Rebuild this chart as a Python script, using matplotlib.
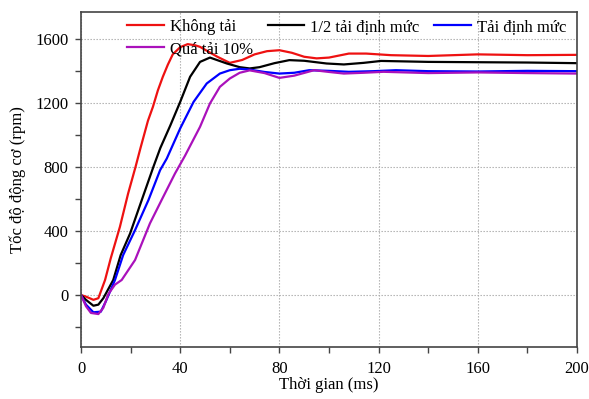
import matplotlib
matplotlib.use('Agg')
import matplotlib.pyplot as plt

plt.rcParams['font.family'] = ['Liberation Serif', 'DejaVu Serif']

# speed responses (time in ms, speed in rpm)
t_none = [0, 2, 5, 7, 9.7, 12, 15.7, 19, 22, 24, 27, 29, 31, 33, 35, 37, 40, 43, 46, 48, 51, 55,
          60, 65, 70, 75, 80, 85, 90, 95, 100, 108, 115, 125, 140, 160, 180, 200]
v_none = [0, -10, -30, -20, 94, 230, 427, 635, 802, 920, 1090, 1177, 1280, 1365, 1440, 1505, 1550, 1569, 1562, 1552, 1525, 1490,
          1452, 1470, 1505, 1525, 1531, 1515, 1490, 1480, 1485, 1510, 1510, 1500, 1495, 1505, 1500, 1502]

t_half = [0, 2, 5, 7, 9, 13, 16, 19.8, 24.5, 29.2, 32, 36, 40, 44, 48, 52, 58.8, 64, 68, 72,
          78, 84, 90, 99, 106, 114, 121, 140, 160, 180, 200]
v_half = [0, -30, -67, -60, -20, 94, 250, 385, 594, 802, 920, 1060, 1208, 1365, 1458, 1485, 1448, 1425, 1417, 1425,
          1450, 1469, 1465, 1448, 1442, 1452, 1464, 1458, 1456, 1454, 1450]

t_rated = [0, 2, 5, 8, 10, 13.7, 17, 21.8, 27.2, 31.9, 34.6, 40, 45.4, 50.7, 56, 60, 64, 68, 74, 80,
           86, 92, 100, 108, 118, 127, 140, 160, 180, 200]
v_rated = [0, -60, -108, -104, -40, 94, 250, 406, 594, 781, 854, 1042, 1208, 1323, 1385, 1406, 1415, 1410, 1395, 1385,
           1390, 1406, 1402, 1396, 1400, 1406, 1400, 1398, 1402, 1400]

t_over = [0, 2, 4, 7, 9, 11, 13.7, 16.4, 21.8, 27.8, 32.5, 37.9, 41.9, 48, 52, 56, 60, 64, 68, 74, 80,
          86, 94, 100, 106, 114, 122, 140, 160, 180, 200]
v_over = [0, -70, -112, -119, -80, 5, 65, 94, 219, 448, 594, 760, 870, 1052, 1198, 1302, 1354, 1390, 1405, 1388, 1358,
          1372, 1406, 1395, 1385, 1390, 1396, 1388, 1392, 1388, 1385]

labels = ['Không tải', '1/2 tải định mức', 'Tải định mức', 'Quá tải 10%']

fig = plt.figure(figsize=(5.89, 3.99), dpi=100)
ax = fig.add_axes([81 / 589, 1 - 347 / 399, 496 / 589, 335 / 399])

ln1, = ax.plot(t_none, v_none, color='#ee1111', lw=1.6)
ln2, = ax.plot(t_half, v_half, color='black', lw=1.6)
ln3, = ax.plot(t_rated, v_rated, color='#0000ff', lw=1.6)
ln4, = ax.plot(t_over, v_over, color='#aa11bb', lw=1.6)

ax.set_xlim(0, 200)
ax.set_ylim(-325, 1770)
ax.set_xticks([0, 40, 80, 120, 160, 200])
ax.set_xticks([20, 60, 100, 140, 180], minor=True)
ax.set_yticks([0, 400, 800, 1200, 1600])
ax.set_yticks([-200, 200, 600, 1000, 1400], minor=True)
ax.tick_params(which='major', direction='out', length=4, width=1, labelsize=12, color='#444444')
ax.tick_params(which='minor', direction='out', length=4, width=1, color='#444444')
ax.tick_params(axis='x', which='major', pad=6)
ax.tick_params(axis='y', which='major', pad=5)
ax.grid(True, which='major', ls=(0, (1.2, 1.5)), color='#aaaaaa', lw=0.8)
for s in ax.spines.values():
    s.set_color('#444444')
    s.set_linewidth(1.2)

ax.set_xlabel('Thời gian (ms)', fontsize=12, labelpad=0)
ax.set_ylabel('Tốc độ động cơ (rpm)', fontsize=12, labelpad=7)

ax.legend([ln1, ln4, ln2, ln3], [labels[0], labels[3], labels[1], labels[2]],
          ncol=3, frameon=False, fontsize=12, loc='upper left',
          bbox_to_anchor=(0.076, 1.004), borderpad=0, handlelength=2.2,
          handletextpad=0.35, columnspacing=0.9, labelspacing=0.37)

fig.savefig('out.png', dpi=100)
